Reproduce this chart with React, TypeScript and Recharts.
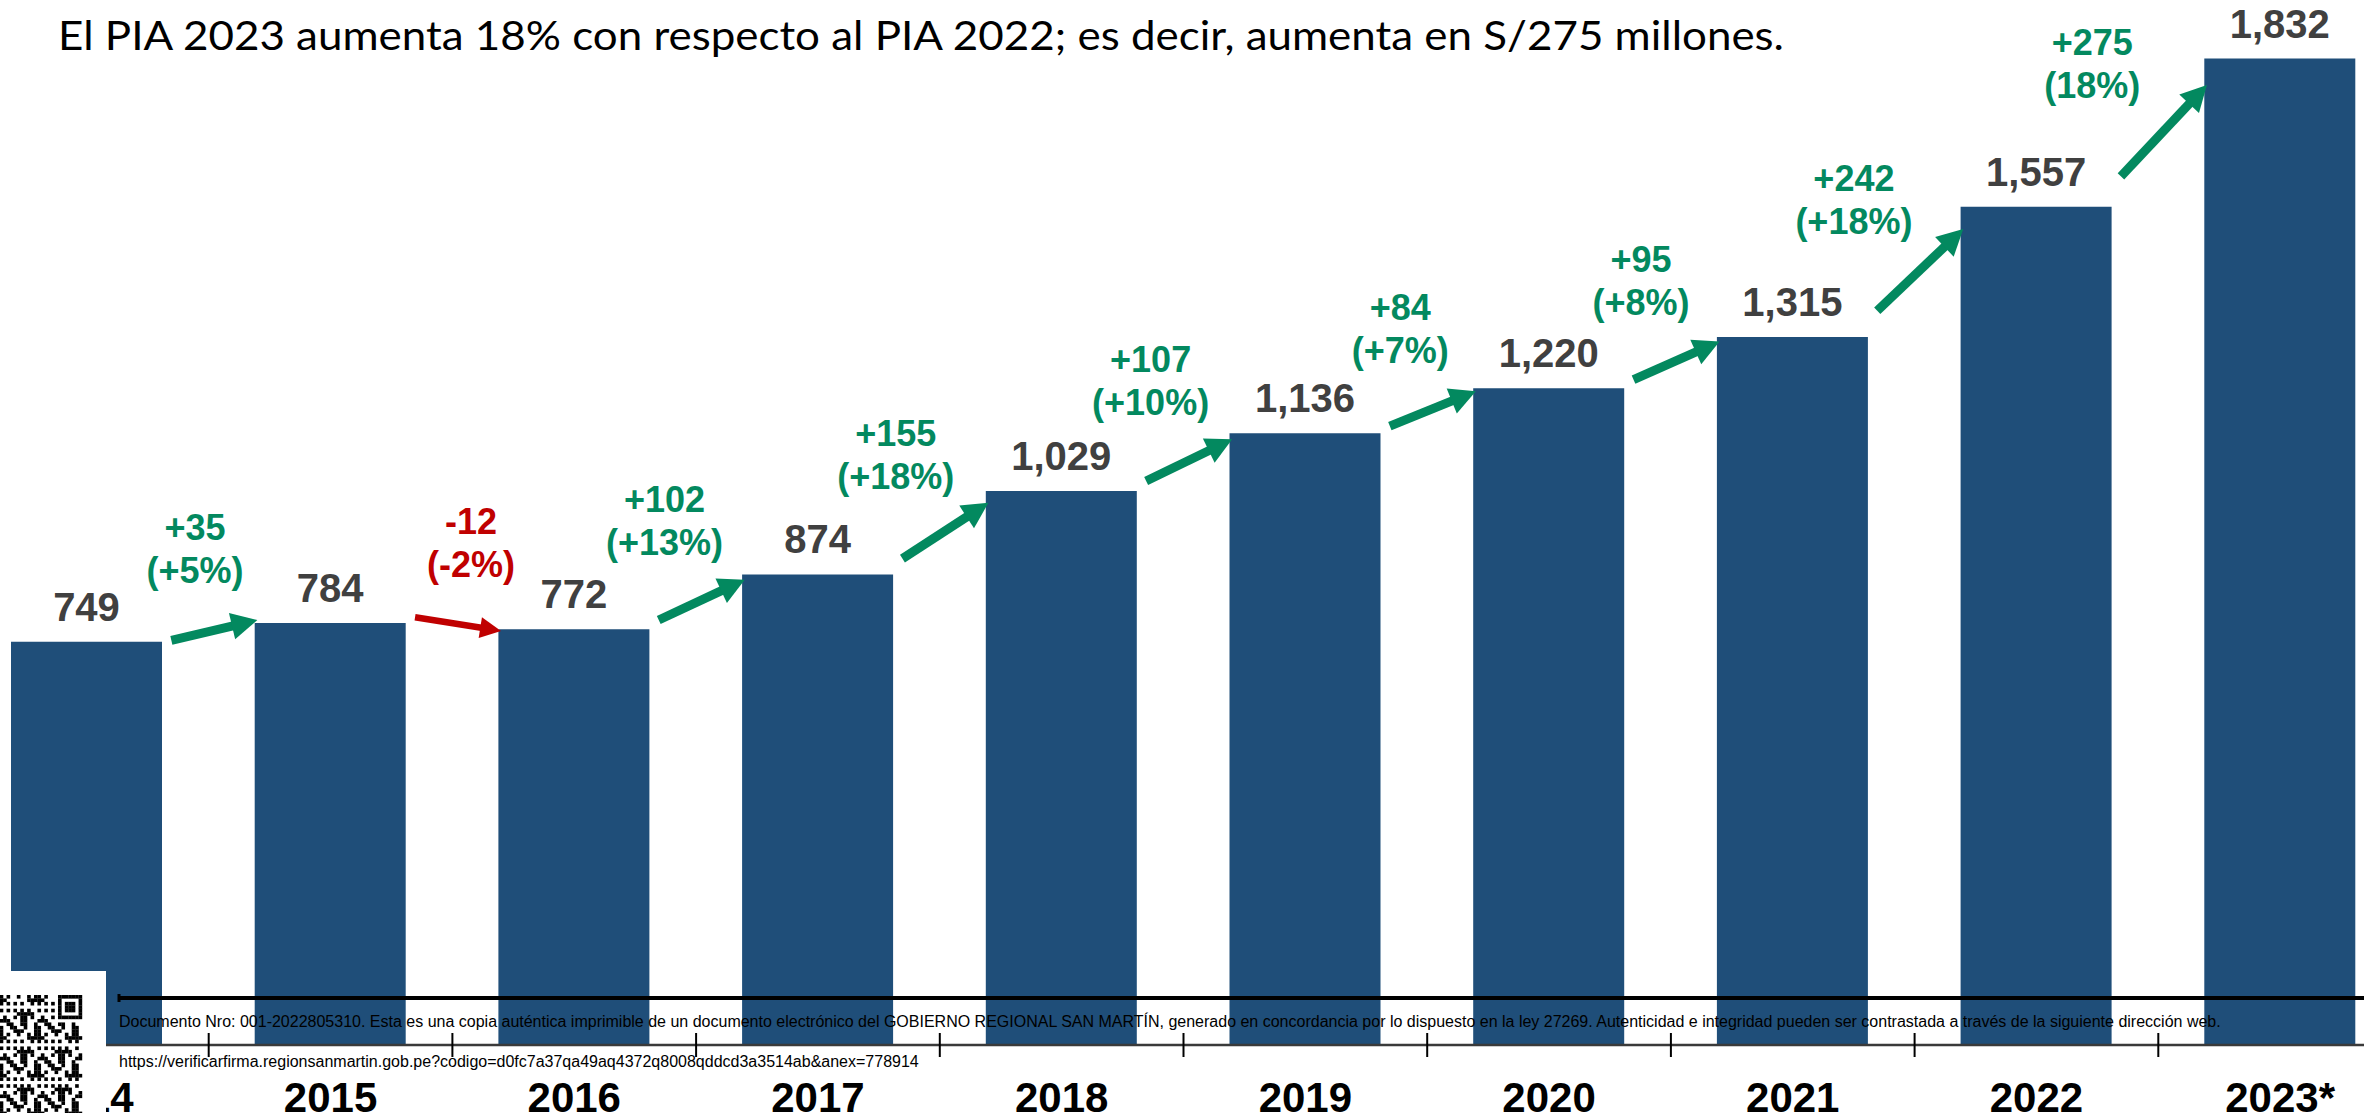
import React from "react";
import { BarChart, Bar, XAxis, YAxis, LabelList } from "recharts";

// PIA by year (millions of soles)
const years = ["2014", "2015", "2016", "2017", "2018", "2019", "2020", "2021", "2022", "2023*"];
const pia = [749, 784, 772, 874, 1029, 1136, 1220, 1315, 1557, 1832];
const changeLabels = ["+35", "-12", "+102", "+155", "+107", "+84", "+95", "+242", "+275"];
const changePctLabels = ["(+5%)", "(-2%)", "(+13%)", "(+18%)", "(+10%)", "(+7%)", "(+8%)", "(+18%)", "(18%)"];

const titleText = "El PIA 2023 aumenta 18% con respecto al PIA 2022; es decir, aumenta en S/275 millones.";
const docText =
  "Documento Nro: 001-2022805310. Esta es una copia auténtica imprimible de un documento electrónico del GOBIERNO REGIONAL SAN MARTÍN, generado en concordancia por lo dispuesto en la ley 27269. Autenticidad e integridad pueden ser contrastada a través de la siguiente dirección web.";
const urlText = "https://verificarfirma.regionsanmartin.gob.pe?codigo=d0fc7a37qa49aq4372q8008qddcd3a3514ab&anex=778914";

const data = years.map((year, i) => ({ year, pia: pia[i] }));

const W = 2364;
const H = 1113;
const CHART_LEFT = -35;
const CHART_W = 2437;
const BAND = CHART_W / years.length;
const Y_MAX = 1900;

const BAR_BLUE = "#1F4E79";
const GREEN = "#03895F";
const RED = "#C00000";
const LABEL_GRAY = "#404040";
const FONT = "'Liberation Sans', Arial, sans-serif";

function ChangeArrow(props: any) {
  const vb = props.viewBox ?? props;
  const i = typeof props.index === "number" ? props.index : pia.indexOf(Number(props.value));
  if (i < 0 || i >= pia.length - 1) return null;
  const x = Number(vb.x), y = Number(vb.y), w = Number(vb.width), h = Number(vb.height);
  const base = y + h;
  const top0 = y;
  const top1 = base - (pia[i + 1] * h) / pia[i];
  const diff = top0 - top1;
  const up = diff > 0;
  const rise = Math.sign(diff) * (10 + 0.55 * Math.abs(diff));
  const mx = x + w / 2 + BAND / 2 + 6;
  const my = (top0 + top1) / 2 - 2;
  const sx = mx - 43, sy = my + rise / 2, ex = mx + 43, ey = my - rise / 2;
  const color = up ? GREEN : RED;
  const shaft = up ? 9 : 6.5;
  const headLen = up ? 26 : 21;
  const headW = up ? 27 : 21;
  const len = Math.hypot(ex - sx, ey - sy);
  const ux = (ex - sx) / len, uy = (ey - sy) / len;
  const nx = uy, ny = -ux;
  const hbx = ex - ux * headLen, hby = ey - uy * headLen;
  const pts = `${ex},${ey} ${hbx + (nx * headW) / 2},${hby + (ny * headW) / 2} ${hbx - (nx * headW) / 2},${hby - (ny * headW) / 2}`;
  const dist = 80 + 0.2 * Math.abs(rise);
  const cx = mx + nx * dist, cy = my + ny * dist;
  return (
    <g>
      <line x1={sx} y1={sy} x2={hbx + ux} y2={hby + uy} stroke={color} strokeWidth={shaft} />
      <polygon points={pts} fill={color} />
      <text x={cx} y={cy - 21.5 + 13} textAnchor="middle" fontFamily={FONT} fontWeight={700} fontSize={36} fill={color}>
        {changeLabels[i]}
      </text>
      <text x={cx} y={cy + 21.5 + 13} textAnchor="middle" fontFamily={FONT} fontWeight={700} fontSize={36} fill={color}>
        {changePctLabels[i]}
      </text>
    </g>
  );
}

function YearTick(props: any) {
  const { x, y, payload } = props;
  const half = typeof payload?.offset === "number" && payload.offset > 0 ? payload.offset : BAND / 2;
  return (
    <g>
      <line x1={x - half} x2={x - half} y1={y - 12} y2={y + 12} stroke="#000" strokeWidth={2} />
      <text x={x} y={y + 67} textAnchor="middle" fontFamily={FONT} fontWeight={700} fontSize={42} fill="#000">
        {payload.value}
      </text>
    </g>
  );
}

function QrMark() {
  const m = 3.43;
  const cols = 24;
  const rows = 35;
  const right = 82;
  const top = 995;
  const cells: React.ReactNode[] = [];
  for (let r = 0; r < rows; r++) {
    for (let c = 0; c < cols; c++) {
      const inFinder = c >= cols - 7 && r < 7;
      const inSep = (c === cols - 8 && r < 8) || (r === 7 && c >= cols - 8);
      let on: boolean;
      if (inFinder) {
        const fc = c - (cols - 7);
        const ring = Math.min(fc, r, 6 - fc, 6 - r);
        on = ring !== 1;
      } else if (inSep) {
        on = false;
      } else {
        on = (r * r * 3 + c * 7 + r * c * 5) % 11 < 5;
      }
      if (on) {
        cells.push(<rect key={`${r}-${c}`} x={right - (cols - c) * m} y={top + r * m} width={m + 0.2} height={m + 0.2} fill="#000" />);
      }
    }
  }
  return <g>{cells}</g>;
}

export default function App() {
  return (
    <div style={{ position: "absolute", left: 0, top: 0, width: W, height: H, overflow: "hidden", background: "#fff" }}>
      <div style={{ position: "absolute", left: CHART_LEFT, top: 0 }}>
        <BarChart width={CHART_W} height={H} data={data} margin={{ top: 22, right: 0, bottom: 0, left: 0 }}>
          <XAxis
            dataKey="year"
            interval={0}
            height={68}
            tickSize={0}
            tickMargin={0}
            tickLine={false}
            axisLine={{ stroke: "#3A3A3A", strokeWidth: 2.5 }}
            tick={(p: any) => <YearTick {...p} />}
          />
          <YAxis hide domain={[0, Y_MAX]} />
          <Bar dataKey="pia" fill={BAR_BLUE} barSize={151} isAnimationActive={false}>
            <LabelList
              dataKey="pia"
              position="top"
              offset={21}
              formatter={(v: any) => Number(v).toLocaleString("en-US")}
              fill={LABEL_GRAY}
              fontFamily={FONT}
              fontWeight={700}
              fontSize={40}
            />
            <LabelList dataKey="pia" content={(p: any) => <ChangeArrow {...p} />} />
          </Bar>
        </BarChart>
      </div>
      <svg width={W} height={H} style={{ position: "absolute", left: 0, top: 0 }}>
        <text x={58} y={50} fontFamily="Lato, 'Open Sans', sans-serif" fontSize={41} fill="#000" textLength={1726} lengthAdjust="spacingAndGlyphs">
          {titleText}
        </text>
        <rect x={0} y={971} width={106} height={H - 971} fill="#fff" />
        <QrMark />
        <line x1={118} x2={W} y1={998} y2={998} stroke="#000" strokeWidth={4} />
        <line x1={119} x2={119} y1={994} y2={1002} stroke="#000" strokeWidth={3} />
        <text x={119} y={1027} fontFamily={FONT} fontSize={16} fill="#000">
          {docText}
        </text>
        <text x={119} y={1067} fontFamily={FONT} fontSize={16} fill="#000">
          {urlText}
        </text>
      </svg>
    </div>
  );
}
